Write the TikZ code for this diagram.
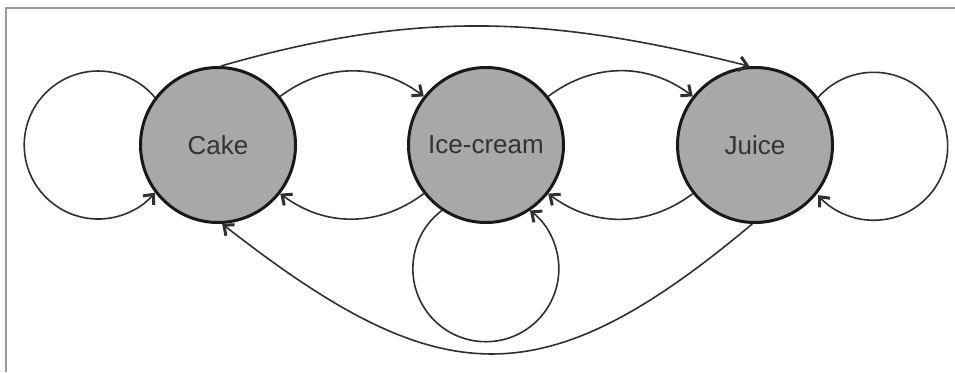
\documentclass[tikz,border=0pt]{standalone}
\usepackage{fontspec}
\setmainfont{Liberation Sans}
\usetikzlibrary{arrows.meta}
\definecolor{nodefill}{HTML}{A8A8A8}
\definecolor{edgecol}{HTML}{303030}
\definecolor{txtcol}{HTML}{333333}
\definecolor{framecol}{HTML}{999999}
\tikzset{
  state/.style={circle, draw=black!90, line width=3pt, fill=nodefill,
    minimum size=155pt, inner sep=0pt, text=txtcol,
    font=\fontsize{26}{30}\selectfont},
  trans/.style={draw=edgecol, line width=1.6pt,
    -{Straight Barb[length=8pt,width=14pt,line width=3pt]}},
  framel/.style={draw=framecol, line width=2pt}
}
\begin{document}
\begin{tikzpicture}[x=1pt,y=-1pt]
\useasboundingbox (0,0) rectangle (955,372);
\coordinate (fa) at (6,372);
\coordinate (fb) at (6,7.5);
\coordinate (fc) at (955,7.5);
\draw[framel] (fa) -- (fb) -- (fc);

\node[state] (cake) at (218,145) {Cake};
\node[state] (ice) at (486,145) {Ice-cream};
\node[state] (juice) at (755,145) {Juice};

% self loops
\draw[trans] (cake.143.5) arc[start angle=40, end angle=320, radius=74pt];
\draw[trans] (juice.37.6) arc[start angle=138.7, end angle=-138.7, radius=74pt];
\draw[trans] (ice.236.6) arc[start angle=127.1, end angle=412.9, radius=73pt];

% neighbours
\draw[trans] (cake.38) to[bend left=37] (ice.142);
\draw[trans] (ice.218) to[bend left=37] (cake.322);
\draw[trans] (ice.38) to[bend left=37] (juice.142);
\draw[trans] (juice.218) to[bend left=37] (ice.322);

% long arcs
\draw[trans] (cake.88.5) to[out=16, in=166] (juice.94);
\draw[trans] (juice.268) to[out=220, in=322, looseness=1.33] (cake.273);
\end{tikzpicture}
\end{document}
